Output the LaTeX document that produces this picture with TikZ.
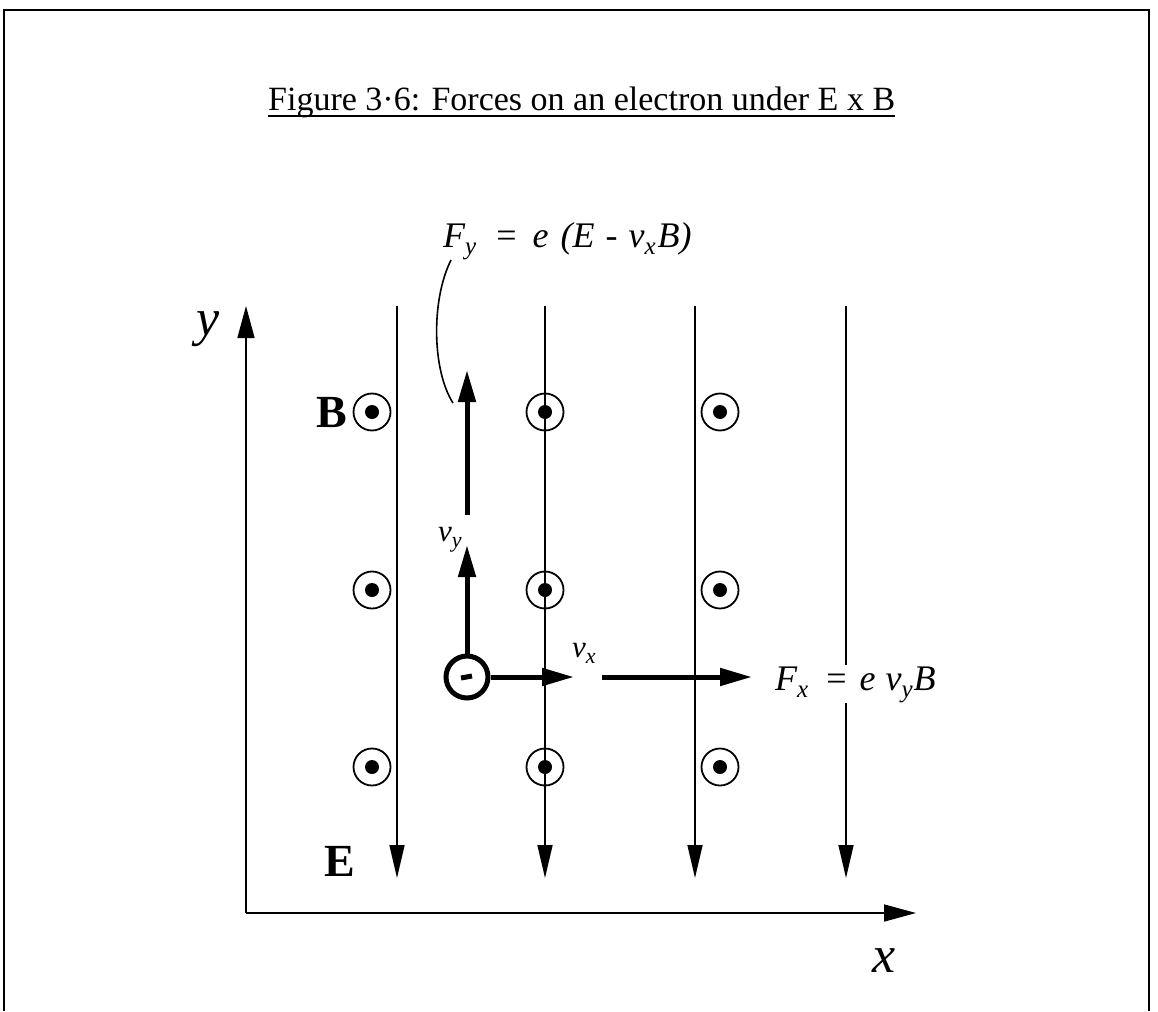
\documentclass[tikz,border=0pt]{standalone}
\usepackage{fontspec}
\setmainfont{Liberation Serif}
\usetikzlibrary{arrows.meta,calc}
\newcommand{\subsc}[1]{\raisebox{-7pt}{\fontsize{25}{27}\selectfont #1}}
\begin{document}
\begin{tikzpicture}[x=1pt,y=-1pt,
  thinline/.style={line width=1.6pt},
  fieldline/.style={line width=1.6pt,-{Triangle[length=33pt,width=15pt]}},
  axisline/.style={line width=1.6pt,-{Triangle[length=32pt,width=17pt]}},
  thickarrow/.style={line width=5pt,-{Triangle[length=32pt,width=17pt]}},
  bsym/.style={circle,draw,line width=1.8pt,minimum size=37pt,inner sep=0pt,
    path picture={\fill (path picture bounding box.center) circle (7pt);}},
  electron/.style={circle,draw,line width=5pt,minimum size=42pt,inner sep=0pt},
  mathlab/.style={inner sep=0pt,font=\fontsize{36}{42}\selectfont\itshape},
  smalllab/.style={inner sep=0pt,font=\fontsize{31}{35}\selectfont\itshape},
  boldlab/.style={inner sep=0pt,font=\fontsize{46}{50}\selectfont\bfseries},
  axlab/.style={inner sep=0pt,font=\fontsize{52}{56}\selectfont\itshape}]
\useasboundingbox (0,0) rectangle (1158,1011);
% frame
\coordinate (fbl) at (4,1011);
\coordinate (ftl) at (4,10);
\coordinate (ftr) at (1149,10);
\coordinate (fbr) at (1149,1011);
\draw[line width=2.5pt] (fbl) -- (ftl) -- (ftr) -- (fbr);
% title
\node[anchor=base west,inner sep=0pt,font=\fontsize{34}{40}\selectfont] (title) at (268,111) {Figure 3·6: Forces on an electron under E x B\ };
\draw[line width=2pt] ($(title.base west)+(0,5)$) -- ($(title.base east)+(0,5)$);
% axes
\coordinate (O) at (246,913);
\coordinate (ytip) at (246,306);
\coordinate (xtip) at (916,913);
\draw[axisline] (O) -- (ytip);
\draw[axisline] (O) -- (xtip);
\node[axlab,anchor=base] (ylab) at (208,335) {y};
\node[axlab,anchor=base] (xlab) at (884,972) {x};
% B field symbols
\foreach \c/\xx in {a/372,b/545,c/720}{
  \foreach \r/\yy in {1/412,2/590,3/767}{
    \node[bsym] (B\c\r) at (\xx,\yy) {};
  }
}
\node[boldlab] (Blab) at (332,413) {B};
\node[boldlab] (Elab) at (340,861) {E};
% E field lines
\foreach \i/\xx in {1/397,2/545,3/695,4/846}{
  \coordinate (Et\i) at (\xx,306);
  \coordinate (Eb\i) at (\xx,878);
}
\draw[fieldline] (Et1) -- (Eb1);
\draw[fieldline] (Et2) -- (Eb2);
\draw[fieldline] (Et3) -- (Eb3);
\draw[fieldline] (Et4) -- (Eb4);
% Fx label (masks part of line 4)
\node[mathlab,anchor=base west,fill=white,inner sep=1pt] (fxlab) at (774,690) {F\subsc{x}\hspace{18pt}{\upshape =}\hspace{13pt}e\hspace{10pt}v\subsc{y}\hspace{1pt}B};
% electron
\node[electron] (e) at (467,677) {};
\draw[line width=5pt] ($(e.center)+(-6,1)$) -- ($(e.center)+(5,-1)$);
% velocity and force arrows
\coordinate (vytip) at (467,545);
\coordinate (vxtip) at (574,677);
\coordinate (fybot) at (467,515);
\coordinate (fytip) at (467,370);
\coordinate (fxbeg) at (602,677);
\coordinate (fxtip) at (752,677);
\draw[thickarrow] (e.north) -- (vytip);
\draw[thickarrow] (e.east) -- (vxtip);
\draw[thickarrow] (fybot) -- (fytip);
\draw[thickarrow] (fxbeg) -- (fxtip);
\node[smalllab,anchor=base west] (vylab) at (438,541) {v\raisebox{-6pt}{\fontsize{22}{24}\selectfont y}};
\node[smalllab,anchor=base west] (vxlab) at (572,657) {v\raisebox{-6pt}{\fontsize{22}{24}\selectfont x}};
% Fy label and leader curve
\node[mathlab,anchor=base west] (fylab) at (443,247) {F\subsc{y}\hspace{20pt}{\upshape =}\hspace{16pt}e\hspace{12pt}(E\hspace{11pt}-\hspace{11pt}v\subsc{x}\hspace{2pt}B)};
\coordinate (cstart) at ($(fylab.base west)+(8,13)$);
\coordinate (cend) at (453,403);
\draw[thinline] (cstart) .. controls (431,300) and (432,370) .. (cend);
\end{tikzpicture}
\end{document}
